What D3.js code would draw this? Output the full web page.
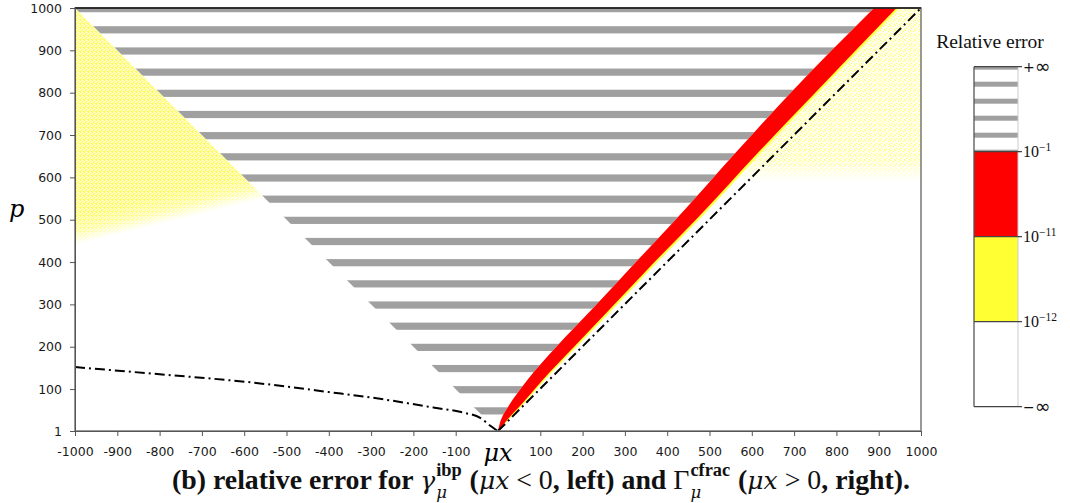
<!DOCTYPE html>
<html>
<head>
<meta charset="utf-8">
<style>
  body { margin:0; background:#fff; }
  .tick text { font-family:"DejaVu Sans",sans-serif; font-size:12.5px; fill:#1a1a1a; }
  .tick line, .domain { stroke:#555; }
</style>
</head>
<body>
<div id="canvas"></div>
<script src="https://cdn.jsdelivr.net/npm/d3@7/dist/d3.min.js"></script>
<script>
var xTicks = [-1000,-900,-800,-700,-600,-500,-400,-300,-200,-100,100,200,300,400,500,600,700,800,900,1000];
var yTicks = [1,100,200,300,400,500,600,700,800,900,1000];

// gray stripes, lower p of each band
var stripeLow = [40,90,140,190,240,290,340,390,440,490,540,590,640,690,740,790,840,890,940,990];
var stripeWidth = 17;

// red band (relative error 1e-11 .. 1e-1)
var bandP      = [1, 30, 60, 121, 200, 286, 400, 498, 664, 800, 1000];
var bandLeft   = [0,  8, 25,  69, 138, 220, 326, 418, 567, 692,  889];
var bandRight  = [0, 24, 52, 105, 180, 262, 370, 466, 620, 750,  942];
var bandFringe = [0, 27, 56, 110, 186, 269, 377, 473, 627, 757,  949];

// dash-dot curves
var curveX = [-1000, -800, -586, -400, -279, -150, -80, -42, -19, -5, 0];
var curveP = [  152,  135,  116,   93,   77,   56,  44,  32,  14,  4, 1];
var diagX = [0, 1000];
var diagP = [1, 1000];

// pale yellow zones (1e-12 .. 1e-11 scattered)
var leftZoneX = [-1000, -1000, -550];
var leftZoneP = [ 1000,   440,  550];
var rightZoneP0 = 590;

var legendLabels = ["+∞", "10|−1", "10|−11", "10|−12", "−∞"];
var legendColors = ["stripes", "#ff0000", "#ffff33", "#ffffff"];
var legendStripeY = [64.7, 81.7, 98.7, 115.7, 132.7, 149.7];

var W = 1070, H = 503;
var svg = d3.select("#canvas").append("svg").attr("width", W).attr("height", H);

var x = d3.scaleLinear().domain([-1000, 1000]).range([75, 921]);
var y = d3.scaleLinear().domain([1, 1000]).range([431, 8]);

var defs = svg.append("defs");
defs.append("clipPath").attr("id", "plotclip")
  .append("rect").attr("x", x(-1000)).attr("y", y(1000)).attr("width", x(1000) - x(-1000)).attr("height", y(1) - y(1000));

var band = bandP.map(function (p, i) {
  return {p: p, l: bandLeft[i], r: bandRight[i], f: bandFringe[i]};
});

var stripeArea = d3.area().curve(d3.curveMonotoneY)
  .y(function (d) { return y(d.p); })
  .x0(function (d) { return x(-d.p); })
  .x1(function (d) { return x(d.l); });
var topRow = {p: 1010, l: bandLeft[bandLeft.length - 1] + 10, r: 0, f: 0};
defs.append("clipPath").attr("id", "stripeclip")
  .append("path").attr("d", stripeArea(band.concat([topRow])));

// dithered look of the pale zones
function dotPattern(id, size, bg, dot, cells) {
  var pt = defs.append("pattern").attr("id", id).attr("patternUnits", "userSpaceOnUse")
    .attr("width", size).attr("height", size);
  pt.append("rect").attr("width", size).attr("height", size).attr("fill", bg);
  cells.forEach(function (c) {
    pt.append("rect").attr("x", c[0]).attr("y", c[1]).attr("width", 1).attr("height", 1).attr("fill", dot);
  });
}
dotPattern("dotsL", 4, "#fffccc", "#ffff30", [[0,0],[2,1],[1,2],[3,3],[0,3]]);
dotPattern("dotsR", 5, "#fffee8", "#ffff60", [[0,0],[3,1],[1,3],[4,4]]);

// fade masks
var lz0 = [x(leftZoneX[1]), y(leftZoneP[1])], lz1 = [x(leftZoneX[2]), y(leftZoneP[2])];
var dx = lz1[0] - lz0[0], dy = lz1[1] - lz0[1], len = Math.sqrt(dx * dx + dy * dy);
var nx = dy / len, ny = -dx / len;
var mid = [(lz0[0] + lz1[0]) / 2, (lz0[1] + lz1[1]) / 2];
var lg = defs.append("linearGradient").attr("id", "leftfade").attr("gradientUnits", "userSpaceOnUse")
  .attr("x1", mid[0]).attr("y1", mid[1]).attr("x2", mid[0] + nx * 26).attr("y2", mid[1] + ny * 26);
lg.append("stop").attr("offset", 0).attr("stop-color", "#000");
lg.append("stop").attr("offset", 0.5).attr("stop-color", "#bbb");
lg.append("stop").attr("offset", 1).attr("stop-color", "#fff");
defs.append("mask").attr("id", "leftmask").attr("maskUnits", "userSpaceOnUse")
  .attr("x", 0).attr("y", 0).attr("width", W).attr("height", H)
  .append("polygon")
  .attr("points", leftZoneX.map(function (v, i) { return x(v) + "," + y(leftZoneP[i]); }).join(" "))
  .attr("fill", "url(#leftfade)");

var rg = defs.append("linearGradient").attr("id", "rightfade").attr("gradientUnits", "userSpaceOnUse")
  .attr("x1", 0).attr("y1", y(rightZoneP0)).attr("x2", 0).attr("y2", y(rightZoneP0 + 50));
rg.append("stop").attr("offset", 0).attr("stop-color", "#000");
rg.append("stop").attr("offset", 1).attr("stop-color", "#fff");
var rz = band.filter(function (d) { return d.p >= rightZoneP0 - 120; });
var rzPts = [[x(1000), y(rightZoneP0)]];
rz.forEach(function (d) { rzPts.push([x(d.f), y(d.p)]); });
rzPts.push([x(1000), y(1000)]);
defs.append("mask").attr("id", "rightmask").attr("maskUnits", "userSpaceOnUse")
  .attr("x", 0).attr("y", 0).attr("width", W).attr("height", H)
  .append("polygon")
  .attr("points", rzPts.map(function (p) { return p.join(","); }).join(" "))
  .attr("fill", "url(#rightfade)");

var plot = svg.append("g").attr("clip-path", "url(#plotclip)");
var plotRect = [x(-1000), y(1000), x(1000) - x(-1000), y(1) - y(1000)];

plot.append("rect").attr("x", plotRect[0]).attr("y", plotRect[1]).attr("width", plotRect[2]).attr("height", plotRect[3])
  .attr("fill", "url(#dotsL)").attr("mask", "url(#leftmask)");
plot.append("rect").attr("x", plotRect[0]).attr("y", plotRect[1]).attr("width", plotRect[2]).attr("height", plotRect[3])
  .attr("fill", "url(#dotsR)").attr("mask", "url(#rightmask)");

plot.append("g").attr("clip-path", "url(#stripeclip)")
  .selectAll("rect").data(stripeLow).enter().append("rect")
  .attr("x", x(-1000)).attr("width", x(1000) - x(-1000))
  .attr("y", function (d) { return y(d + stripeWidth); })
  .attr("height", function (d) { return y(d) - y(d + stripeWidth); })
  .attr("fill", "#a0a0a0");

var fringeArea = d3.area().curve(d3.curveMonotoneY)
  .y(function (d) { return y(d.p); })
  .x0(function (d) { return x(d.r) - 1; })
  .x1(function (d) { return x(d.f); });
plot.append("path").attr("d", fringeArea(band)).attr("fill", "#ffff40");

var redArea = d3.area().curve(d3.curveMonotoneY)
  .y(function (d) { return y(d.p); })
  .x0(function (d) { return x(d.l); })
  .x1(function (d) { return x(d.r); });
plot.append("path").attr("d", redArea(band)).attr("fill", "#ff0000");

var dashLine = d3.line().curve(d3.curveMonotoneX)
  .x(function (d) { return x(d[0]); })
  .y(function (d) { return y(d[1]); });
plot.append("path")
  .attr("d", dashLine(curveX.map(function (v, i) { return [v, curveP[i]]; })))
  .attr("fill", "none").attr("stroke", "#000").attr("stroke-width", 2)
  .attr("stroke-dasharray", "10,4,2,4");
plot.append("path")
  .attr("d", dashLine(diagX.map(function (v, i) { return [v, diagP[i]]; })))
  .attr("fill", "none").attr("stroke", "#000").attr("stroke-width", 2)
  .attr("stroke-dasharray", "10,4,2,4");

// frame
svg.append("rect").attr("x", plotRect[0]).attr("y", plotRect[1]).attr("width", plotRect[2]).attr("height", plotRect[3])
  .attr("fill", "none").attr("stroke", "#777").attr("stroke-width", 1.5);
svg.append("line").attr("x1", x(-1000)).attr("x2", x(1000)).attr("y1", y(1000)).attr("y2", y(1000))
  .attr("stroke", "#111").attr("stroke-width", 1.5);

// axes
var xAxis = svg.append("g").attr("transform", "translate(0," + y(1) + ")")
  .call(d3.axisBottom(x).tickValues(xTicks).tickFormat(function (d) { return String(d); }).tickSize(5).tickPadding(11));
xAxis.select(".domain").attr("stroke", "#555");
var yAxis = svg.append("g").attr("transform", "translate(" + x(-1000) + ",0)")
  .call(d3.axisLeft(y).tickValues(yTicks).tickFormat(function (d) { return String(d); }).tickSize(5).tickPadding(8));
yAxis.select(".domain").attr("stroke", "#777");
svg.selectAll(".tick text").attr("fill", "#1a1a1a");

svg.append("text").attr("x", x(0)).attr("y", 461).attr("text-anchor", "middle")
  .style("font-family", "'DejaVu Serif',serif").style("font-style", "italic").style("font-size", "24px")
  .text("μx");
svg.append("text").attr("x", 9).attr("y", 217)
  .style("font-family", "'DejaVu Serif',serif").style("font-style", "italic").style("font-size", "24px")
  .text("p");

// legend
var lgY = d3.scaleLinear().domain([0, 4]).range([66.7, 406.7]);
var lx0 = 974, lw = 44;
var legend = svg.append("g");
legend.append("text").attr("x", 990).attr("y", 48).attr("text-anchor", "middle")
  .style("font-family", "'Liberation Serif',serif").style("font-size", "19.5px").attr("fill", "#111")
  .text("Relative error");
defs.append("clipPath").attr("id", "legclip").append("rect")
  .attr("x", lx0).attr("y", lgY(0)).attr("width", lw).attr("height", lgY(1) - lgY(0));
legend.selectAll("rect.sec").data(legendColors).enter().append("rect").attr("class", "sec")
  .attr("x", lx0).attr("width", lw)
  .attr("y", function (d, i) { return lgY(i); })
  .attr("height", function (d, i) { return lgY(i + 1) - lgY(i); })
  .attr("fill", function (d) { return d === "stripes" ? "#fff" : d; });
legend.append("g").attr("clip-path", "url(#legclip)")
  .selectAll("rect").data(legendStripeY).enter().append("rect")
  .attr("x", lx0).attr("width", lw).attr("y", function (d) { return d; }).attr("height", 5)
  .attr("fill", "#a0a0a0");
legend.append("line").attr("x1", lx0).attr("x2", lx0).attr("y1", lgY(0)).attr("y2", lgY(4))
  .attr("stroke", "#555").attr("stroke-width", 1.3);
legend.append("line").attr("x1", lx0 + lw).attr("x2", lx0 + lw).attr("y1", lgY(0)).attr("y2", lgY(4))
  .attr("stroke", "#ccc").attr("stroke-width", 1);
legend.selectAll("line.tk").data(legendLabels).enter().append("line").attr("class", "tk")
  .attr("x1", lx0).attr("x2", lx0 + lw + 4)
  .attr("y1", function (d, i) { return lgY(i); }).attr("y2", function (d, i) { return lgY(i); })
  .attr("stroke", "#444").attr("stroke-width", 1.3);
var lt = legend.selectAll("text.lab").data(legendLabels).enter().append("text").attr("class", "lab")
  .attr("x", lx0 + lw + 5).attr("y", function (d, i) { return lgY(i) + 5; })
  .attr("fill", "#111");
lt.each(function (d) {
  var parts = d.split("|"), t = d3.select(this);
  if (d.indexOf("∞") >= 0) {
    t.style("font-family", "'DejaVu Sans',sans-serif").style("font-size", "14px");
    t.append("tspan").text(d.charAt(0));
    t.append("tspan").style("font-size", "19px").attr("dy", 1).text("∞");
    return;
  }
  t.style("font-family", "'Liberation Serif',serif").style("font-size", "16px");
  t.append("tspan").text(parts[0]);
  if (parts[1]) t.append("tspan").attr("dy", -6).style("font-size", "11.5px").text(parts[1]);
});

// caption
var captionRuns = [
  {t: "(b) relative error for ", b: 1},
  {t: "γ", i: 1},
  {sup: "ibp", sub: "μ"},
  {t: " (", b: 1},
  {t: "μx", i: 1},
  {t: " < 0"},
  {t: ", left) and ", b: 1},
  {t: "Γ"},
  {sup: "cfrac", sub: "μ"},
  {t: " (", b: 1},
  {t: "μx", i: 1},
  {t: " > 0"},
  {t: ", right).", b: 1}
];
function layoutCaption(g, size) {
  g.selectAll("*").remove();
  var cx = 0;
  function put(txt, px, py, fs, bold, ital) {
    var t = g.append("text").attr("x", px).attr("y", py)
      .style("font-family", ital ? "'DejaVu Serif',serif" : "'Liberation Serif',serif")
      .style("font-size", (ital ? fs * 0.9 : fs) + "px")
      .style("font-weight", bold ? "bold" : "normal").style("font-style", ital ? "italic" : "normal")
      .style("white-space", "pre").attr("fill", "#111").text(txt);
    return t.node().getComputedTextLength();
  }
  captionRuns.forEach(function (r) {
    if (r.sup) {
      var w1 = put(r.sup, cx + 1, -size * 0.47, size * 0.66, true, false);
      var w2 = put(r.sub, cx + 1, size * 0.33, size * 0.66, false, true);
      cx += Math.max(w1, w2) + 2;
    } else {
      cx += put(r.t, cx, 0, size, r.b, r.i);
    }
  });
  return cx;
}
var cap = svg.append("g").attr("transform", "translate(172,489)");
var wCap = layoutCaption(cap, 20);
layoutCaption(cap, 20 * 740 / wCap);
</script>
</body>
</html>
